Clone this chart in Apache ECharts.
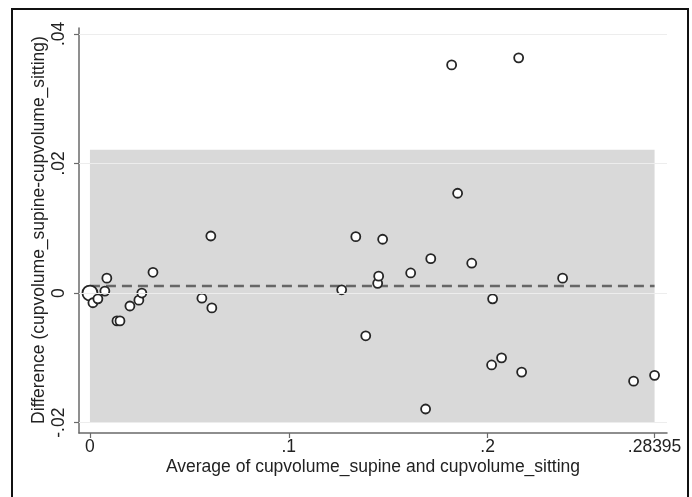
<!DOCTYPE html>
<html>
<head>
<meta charset="utf-8">
<script src="https://cdn.jsdelivr.net/npm/echarts@6/dist/echarts.min.js"></script>
<style>
  html, body { margin: 0; padding: 0; background: #fff; }
  #chart { width: 692px; height: 497px; }
</style>
</head>
<body>
<div id="chart"></div>
<script>
// Bland-Altman data: mean of the two measurements vs. their difference
const avgValues = [
  0, 0.0015, 0.0040, 0.0075, 0.0085, 0.0136, 0.0151, 0.0201, 0.0246, 0.0261,
  0.0317, 0.0563, 0.0608, 0.0613, 0.1266, 0.1337, 0.1387, 0.1447, 0.1452, 0.1472,
  0.1613, 0.1688, 0.1714, 0.1819, 0.1849, 0.1920, 0.2020, 0.2025, 0.2070, 0.2156,
  0.2171, 0.2377, 0.2734, 0.28395
];
const diffValues = [
  0, -0.0015, -0.0009, 0.0003, 0.0023, -0.0043, -0.0043, -0.0020, -0.0011, 0.0000,
  0.0032, -0.0008, 0.0088, -0.0023, 0.0005, 0.0087, -0.0066, 0.0015, 0.0026, 0.0083,
  0.0031, -0.0179, 0.0053, 0.0352, 0.0154, 0.0046, -0.0111, -0.0009, -0.0100, 0.0363,
  -0.0122, 0.0023, -0.0136, -0.0127
];
// Mean difference and limits of agreement
const meanDiff = 0.0011;
const lowerLimit = -0.0199;
const upperLimit = 0.0221;

const xTicks = [0, 0.1, 0.2, 0.28395];
const xTickLabels = ['0', '.1', '.2', '.28395'];
const yTicks = [-0.02, 0, 0.02, 0.04];
const yTickLabels = ['-.02', '0', '.02', '.04'];

const xTitle = 'Average of cupvolume_supine and cupvolume_sitting';
const yTitle = 'Difference (cupvolume_supine-cupvolume_sitting)';

function tickLabel(ticks, labels) {
  return function (v) {
    for (let i = 0; i < ticks.length; i++) {
      if (Math.abs(ticks[i] - v) < 1e-9) return labels[i];
    }
    return '';
  };
}

const xMax = xTicks[xTicks.length - 1];
const points = avgValues.map((x, i) => ({
  value: [x, diffValues[i]],
  symbolSize: i === 0 ? 15 : 9
}));

const FONT = '"Liberation Sans", Arial, Helvetica, sans-serif';
const FONT_SIZE = 17.5;
const AXIS_COLOR = '#6a6a6a';

const chart = echarts.init(document.getElementById('chart'), null, { renderer: 'canvas' });
chart.setOption({
  backgroundColor: '#ffffff',
  animation: false,
  grid: { left: 79, right: 25, top: 28, bottom: 64 },
  xAxis: {
    type: 'value',
    min: -0.0055,
    max: 0.2902,
    axisLine: { show: true, onZero: false, lineStyle: { color: AXIS_COLOR, width: 1.5 } },
    axisTick: { show: true, customValues: xTicks, length: 5, lineStyle: { color: AXIS_COLOR, width: 1.2 } },
    axisLabel: {
      customValues: xTicks,
      formatter: tickLabel(xTicks, xTickLabels),
      color: '#222', fontFamily: FONT, fontSize: FONT_SIZE, margin: 5
    },
    splitLine: { show: false }
  },
  yAxis: {
    type: 'value',
    min: -0.0216,
    max: 0.0409,
    axisLine: { show: true, onZero: false, lineStyle: { color: AXIS_COLOR, width: 1.5 } },
    axisTick: { show: true, customValues: yTicks, length: 5, lineStyle: { color: AXIS_COLOR, width: 1.2 } },
    axisLabel: {
      customValues: yTicks,
      formatter: tickLabel(yTicks, yTickLabels),
      rotate: 90,
      color: '#222', fontFamily: FONT, fontSize: FONT_SIZE, margin: 11
    },
    splitLine: { show: false }
  },
  series: [
    {
      // faint horizontal grid at each y tick
      type: 'line', data: [], silent: true, z: 1,
      markLine: {
        silent: true, symbol: 'none', label: { show: false },
        lineStyle: { color: '#ededed', width: 1, type: 'solid' },
        data: yTicks.map(v => ({ yAxis: v }))
      }
    },
    {
      // shaded band between limits of agreement
      type: 'line', data: [], silent: true, z: 2,
      markArea: {
        silent: true,
        itemStyle: { color: '#d9d9d9' },
        data: [[{ coord: [0, lowerLimit] }, { coord: [xMax, upperLimit] }]]
      }
    },
    {
      // mean difference
      type: 'line', z: 3, silent: true, symbol: 'none',
      data: [[0, meanDiff], [xMax, meanDiff]],
      lineStyle: { color: '#666666', width: 2.5, type: [10, 6] }
    },
    {
      type: 'scatter', z: 4,
      symbol: 'circle',
      data: points,
      itemStyle: { color: '#ffffff', borderColor: '#262626', borderWidth: 1.8, opacity: 1 }
    }
  ],
  graphic: [
    {
      type: 'rect', silent: true, z: 100,
      shape: { x: 12, y: 9, width: 676, height: 500 },
      style: { fill: null, stroke: '#111111', lineWidth: 2 }
    },
    {
      type: 'text', silent: true, z: 100,
      x: 373, y: 467,
      style: { text: xTitle, font: FONT_SIZE + 'px ' + FONT, fill: '#222', align: 'center', verticalAlign: 'middle' }
    },
    {
      type: 'text', silent: true, z: 100,
      x: 39, y: 230, rotation: Math.PI / 2,
      style: { text: yTitle, font: FONT_SIZE + 'px ' + FONT, fill: '#222', align: 'center', verticalAlign: 'middle' }
    }
  ]
});
</script>
</body>
</html>
